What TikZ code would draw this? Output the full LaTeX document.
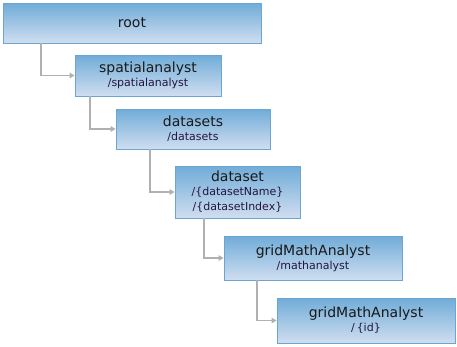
\documentclass[tikz,border=0pt]{standalone}
\usepackage{fontspec}
\setmainfont{DejaVu Sans}
\usetikzlibrary{arrows.meta,shadings}
\definecolor{boxtop}{HTML}{70ACD8}
\definecolor{boxbot}{HTML}{D0DEF0}
\definecolor{boxline}{HTML}{6AA6D0}
\definecolor{conn}{HTML}{B0B0B0}
\definecolor{subtxt}{HTML}{24163E}
\newcommand{\ttl}[1]{{\fontsize{14}{15}\selectfont #1}}
\newcommand{\sbt}[1]{{\fontsize{11}{13}\selectfont\color{subtxt}#1}}
\tikzset{
  resbox/.style={draw=boxline, line width=0.8pt, top color=boxtop, bottom color=boxbot,
    inner sep=0pt, align=center, text=black!90, font=\fontsize{14}{15}\selectfont},
  link/.style={draw=conn, line width=1.8pt, -{Triangle[length=5pt,width=5.5pt]}}
}
\begin{document}
\begin{tikzpicture}[x=1pt,y=-1pt]
\useasboundingbox (0,0) rectangle (457,346);
\node[resbox, minimum width=258pt, minimum height=40pt] (root) at (132,23) {\ttl{root}};
\node[resbox, minimum width=146pt, minimum height=41pt] (spatial) at (148,75.5) {\ttl{spatialanalyst}\\[-1pt]\sbt{/spatialanalyst}};
\node[resbox, minimum width=154pt, minimum height=40pt] (datasets) at (193,129) {\ttl{datasets}\\[-1pt]\sbt{/datasets}};
\node[resbox, minimum width=125pt, minimum height=52pt] (dataset) at (237.5,192) {\ttl{dataset}\\[-1pt]\sbt{/\{datasetName\}}\\\sbt{/\{datasetIndex\}}};
\node[resbox, minimum width=178pt, minimum height=44pt] (grid1) at (313,258) {\ttl{gridMathAnalyst}\\[-1pt]\sbt{/mathanalyst}};
\node[resbox, minimum width=178pt, minimum height=45pt] (grid2) at (366,320.5) {\ttl{gridMathAnalyst}\\[-1pt]\sbt{/\,\{id\}}};
\draw[link] ([xshift=38pt]root.south west) |- (spatial.west);
\draw[link] ([xshift=15pt]spatial.south west) |- (datasets.west);
\draw[link] ([xshift=34pt]datasets.south west) |- (dataset.west);
\draw[link] ([xshift=29pt]dataset.south west) |- (grid1.west);
\draw[link] ([xshift=33pt]grid1.south west) |- (grid2.west);
\end{tikzpicture}
\end{document}
